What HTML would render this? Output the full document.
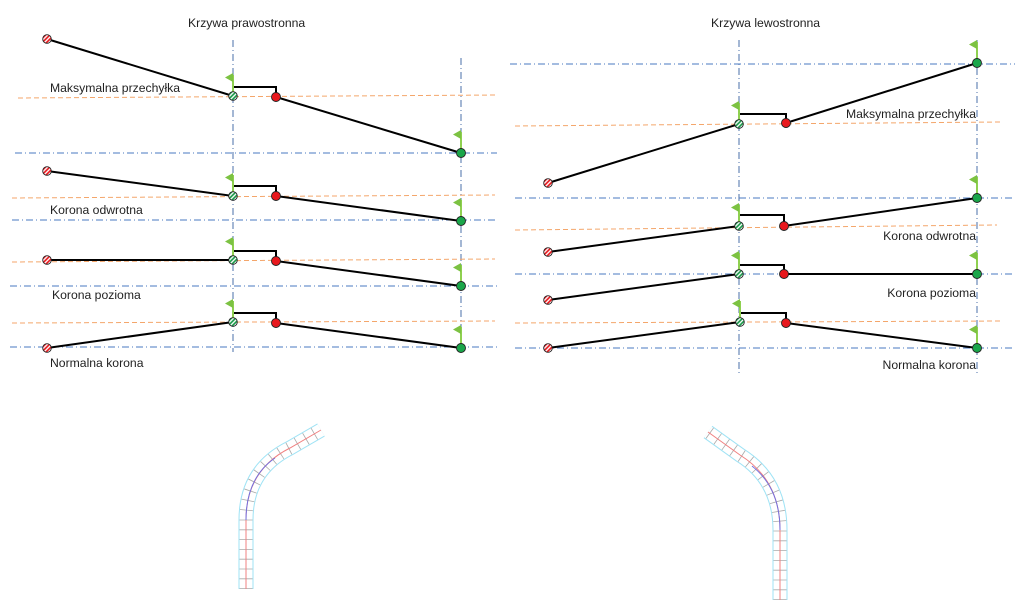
<!DOCTYPE html>
<html><head><meta charset="utf-8"><style>
html,body{margin:0;padding:0;background:#fff;}
svg{display:block;}
text{font-family:"Liberation Sans",sans-serif;font-size:12.2px;fill:#222;}
</style></head><body>
<svg width="1024" height="606" viewBox="0 0 1024 606" xmlns="http://www.w3.org/2000/svg">
<defs>
<pattern id="hr" width="3" height="3" patternUnits="userSpaceOnUse" patternTransform="rotate(45)"><rect width="3" height="3" fill="#e8181d"/><rect width="1.3" height="3" fill="#fff"/></pattern>
<pattern id="hg" width="3" height="3" patternUnits="userSpaceOnUse" patternTransform="rotate(45)"><rect width="3" height="3" fill="#1a9a4a"/><rect width="1.3" height="3" fill="#fff"/></pattern>
<g id="st"><circle r="4.3" fill="url(#hr)" stroke="#222" stroke-width="0.9"/></g>
<g id="gh"><circle r="4.3" fill="url(#hg)" stroke="#222" stroke-width="0.9"/></g>
<g id="rd"><circle r="4.5" fill="#e8181d" stroke="#222" stroke-width="0.9"/></g>
<g id="gd"><circle r="4.5" fill="#1aa64a" stroke="#222" stroke-width="0.9"/></g>
<g id="fl"><line x1="0" y1="0" x2="0" y2="-21" stroke="#8fd050" stroke-width="2"/><polygon points="0,-23 0,-14 -8,-18.5" fill="#7cc242"/></g>
</defs>

<g stroke-width="1">
<line x1="233" y1="40" x2="233" y2="352" stroke="#4a6fa8" stroke-dasharray="7,3,1,3"/>
<line x1="461" y1="58" x2="461" y2="352" stroke="#4a6fa8" stroke-dasharray="7,3,1,3"/>
<line x1="739" y1="40" x2="739" y2="374" stroke="#4a6fa8" stroke-dasharray="7,3,1,3"/>
<line x1="977" y1="40" x2="977" y2="374" stroke="#4a6fa8" stroke-dasharray="7,3,1,3"/>
<g stroke="#f4a66b" stroke-dasharray="5,3">
<line x1="18" y1="98" x2="497" y2="95"/>
<line x1="12" y1="198" x2="495" y2="195"/>
<line x1="12" y1="262" x2="495" y2="259"/>
<line x1="12" y1="323" x2="495" y2="321"/>
<line x1="515" y1="126" x2="1000" y2="122"/>
<line x1="515" y1="230" x2="997" y2="225"/>
<line x1="515" y1="323" x2="1000" y2="321"/>
</g>
<g stroke="#4a78c0" stroke-dasharray="7,3,1,3">
<line x1="15" y1="153" x2="497" y2="153"/>
<line x1="12" y1="220" x2="497" y2="220"/>
<line x1="10" y1="286" x2="497" y2="286"/>
<line x1="10" y1="347" x2="497" y2="347"/>
<line x1="510" y1="64" x2="1015" y2="64"/>
<line x1="515" y1="198" x2="1015" y2="198"/>
<line x1="515" y1="274" x2="1015" y2="274"/>
<line x1="515" y1="348" x2="1015" y2="348"/>
</g>
</g>

<g fill="none" stroke="#000" stroke-width="2">
<polyline points="47,39 233,96 233,87 276,87 276,97 461,153"/>
<polyline points="47,171 233,196 233,186 276,186 276,196 461,221"/>
<polyline points="47,260 233,260 233,251 276,251 276,261 461,286"/>
<polyline points="47,348 233,322 233,313 276,313 276,323 461,348"/>
<polyline points="548,183 739,124 739,114 786,114 786,123 977,63"/>
<polyline points="548,252 739,226 739,215 784,215 784,226 977,198"/>
<polyline points="548,300 739,274 739,265 784,265 784,274 977,274"/>
<polyline points="548,348 740,322 740,313 786,313 786,323 977,348"/>
</g>

<use href="#fl" x="233" y="96"/><use href="#fl" x="461" y="153"/>
<use href="#fl" x="233" y="196"/><use href="#fl" x="461" y="221"/>
<use href="#fl" x="233" y="260"/><use href="#fl" x="461" y="286"/>
<use href="#fl" x="233" y="322"/><use href="#fl" x="461" y="348"/>
<use href="#fl" x="739" y="124"/><use href="#fl" x="977" y="63"/>
<use href="#fl" x="739" y="226"/><use href="#fl" x="977" y="198"/>
<use href="#fl" x="739" y="274"/><use href="#fl" x="977" y="274"/>
<use href="#fl" x="740" y="322"/><use href="#fl" x="977" y="348"/>

<use href="#st" x="47" y="39"/><use href="#gh" x="233" y="96"/><use href="#rd" x="276" y="97"/><use href="#gd" x="461" y="153"/>
<use href="#st" x="47" y="171"/><use href="#gh" x="233" y="196"/><use href="#rd" x="276" y="196"/><use href="#gd" x="461" y="221"/>
<use href="#st" x="47" y="260"/><use href="#gh" x="233" y="260"/><use href="#rd" x="276" y="261"/><use href="#gd" x="461" y="286"/>
<use href="#st" x="47" y="348"/><use href="#gh" x="233" y="322"/><use href="#rd" x="276" y="323"/><use href="#gd" x="461" y="348"/>
<use href="#st" x="548" y="183"/><use href="#gh" x="739" y="124"/><use href="#rd" x="786" y="123"/><use href="#gd" x="977" y="63"/>
<use href="#st" x="548" y="252"/><use href="#gh" x="739" y="226"/><use href="#rd" x="784" y="226"/><use href="#gd" x="977" y="198"/>
<use href="#st" x="548" y="300"/><use href="#gh" x="739" y="274"/><use href="#rd" x="784" y="274"/><use href="#gd" x="977" y="274"/>
<use href="#st" x="548" y="348"/><use href="#gh" x="740" y="322"/><use href="#rd" x="786" y="323"/><use href="#gd" x="977" y="348"/>

<text x="188" y="27">Krzywa prawostronna</text>
<text x="711" y="27">Krzywa lewostronna</text>
<text x="50" y="92">Maksymalna przechyłka</text>
<text x="50" y="214">Korona odwrotna</text>
<text x="52" y="299">Korona pozioma</text>
<text x="50" y="367">Normalna korona</text>
<text x="976" y="118" text-anchor="end">Maksymalna przechyłka</text>
<text x="976" y="240" text-anchor="end">Korona odwrotna</text>
<text x="976" y="297" text-anchor="end">Korona pozioma</text>
<text x="976" y="369" text-anchor="end">Normalna korona</text>

<g fill="none">
<path d="M246,589 L246,520 Q246,470 290,448 L321,430" stroke="#9fe3f5" stroke-width="15"/>
<path d="M246,589 L246,520 Q246,470 290,448 L321,430" stroke="#fff" stroke-width="13"/>
<path d="M246,589 L246,520 Q246,470 290,448 L321,430" stroke="#aaa" stroke-width="13" stroke-dasharray="0.8,9"/>
<path d="M246,589 L246,520 Q246,470 290,448 L321,430" stroke="#f08080" stroke-width="1"/>
<path d="M246,520 Q246,478 275,458" stroke="#7070e0" stroke-width="1"/>
<path d="M780,600 L780,530 Q780,480 740,455 L708,432" stroke="#9fe3f5" stroke-width="15"/>
<path d="M780,600 L780,530 Q780,480 740,455 L708,432" stroke="#fff" stroke-width="13"/>
<path d="M780,600 L780,530 Q780,480 740,455 L708,432" stroke="#aaa" stroke-width="13" stroke-dasharray="0.8,9"/>
<path d="M780,600 L780,530 Q780,480 740,455 L708,432" stroke="#f08080" stroke-width="1"/>
<path d="M780,530 Q780,488 752,466" stroke="#7070e0" stroke-width="1"/>
</g>
</svg>
</body></html>
